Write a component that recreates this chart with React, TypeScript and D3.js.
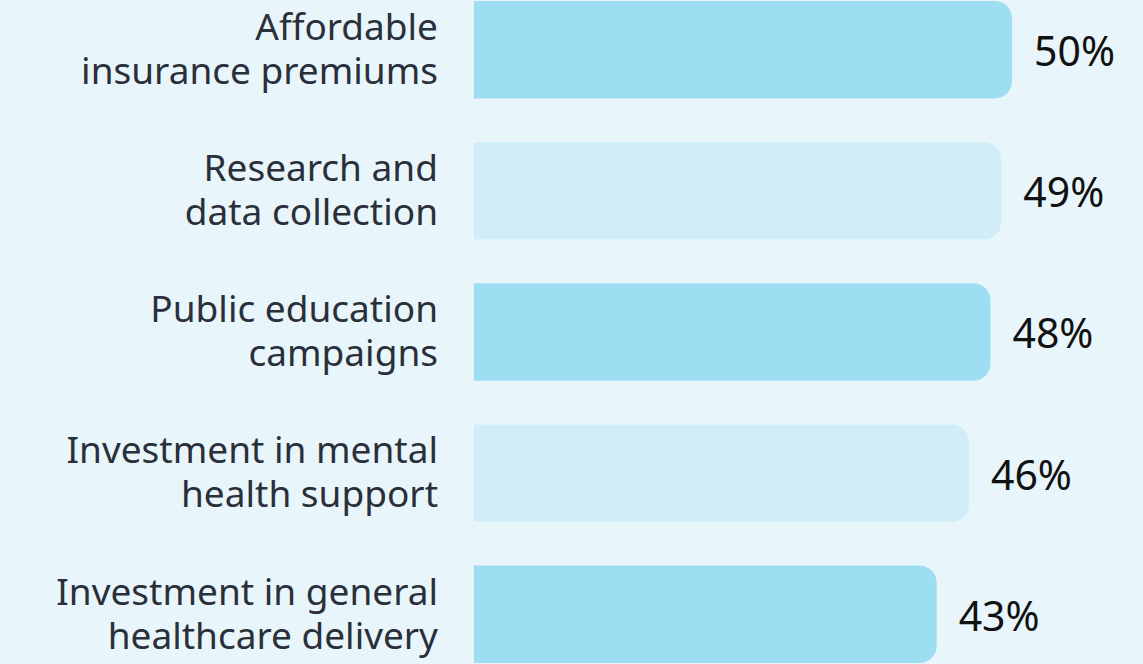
import React, { useRef, useEffect } from 'react';
import * as d3 from 'd3';

// chart data
const categories = [
  'Affordable insurance premiums',
  'Research and data collection',
  'Public education campaigns',
  'Investment in mental health support',
  'Investment in general healthcare delivery',
];
const labelLines = [
  ['Affordable', 'insurance premiums'],
  ['Research and', 'data collection'],
  ['Public education', 'campaigns'],
  ['Investment in mental', 'health support'],
  ['Investment in general', 'healthcare delivery'],
];
const values = [50, 49, 48, 46, 43];

const BarChart = () => {
  const ref = useRef(null);

  useEffect(() => {
    const width = 1143;
    const height = 664;
    const radius = 17;

    d3.select(ref.current).selectAll('*').remove();

    const svg = d3.select(ref.current)
      .attr('width', width)
      .attr('height', height);

    svg.append('rect')
      .attr('width', width)
      .attr('height', height)
      .attr('fill', '#e8f6fc');

    const y = d3.scaleBand()
      .domain(categories)
      .range([1, 663])
      .paddingInner(0.31)
      .paddingOuter(0);

    const x = d3.scaleLinear()
      .domain([0, 50])
      .range([474, 1012]);

    // bar with square left side, rounded right corners
    const barPath = (x0, y0, x1, h) => {
      const r = Math.min(radius, (x1 - x0) / 2, h / 2);
      const p = d3.path();
      p.moveTo(x0, y0);
      p.lineTo(x1 - r, y0);
      p.arcTo(x1, y0, x1, y0 + r, r);
      p.lineTo(x1, y0 + h - r);
      p.arcTo(x1, y0 + h, x1 - r, y0 + h, r);
      p.lineTo(x0, y0 + h);
      p.closePath();
      return p.toString();
    };

    const rows = svg.selectAll('g.row')
      .data(categories)
      .enter()
      .append('g')
      .attr('class', 'row');

    rows.append('path')
      .attr('d', (d, i) => barPath(x(0), y(d), x(values[i]), y.bandwidth()))
      .attr('fill', (d, i) => (i % 2 === 0 ? '#9edef2' : '#d1eef8'));

    // category labels, two lines, right aligned
    const lineH = 44;
    rows.append('text')
      .attr('text-anchor', 'end')
      .attr('font-family', '"Noto Sans", sans-serif')
      .attr('font-size', 37)
      .attr('fill', '#2a2f3a')
      .each(function (d, i) {
        const mid = y(d) + y.bandwidth() / 2;
        const lines = labelLines[i];
        d3.select(this)
          .selectAll('tspan')
          .data(lines)
          .enter()
          .append('tspan')
          .attr('x', 438)
          .attr('y', (l, j) => mid + (j - (lines.length - 1) / 2) * lineH)
          .attr('dy', '0.33em')
          .text((l) => l);
      });

    // value labels
    rows.append('text')
      .attr('x', (d, i) => x(values[i]) + 22)
      .attr('y', (d) => y(d) + y.bandwidth() / 2 + 2)
      .attr('dy', '0.35em')
      .attr('font-family', '"Noto Sans", sans-serif')
      .attr('font-size', 41)
      .attr('fill', '#111111')
      .text((d, i) => values[i] + '%');
  }, []);

  return <svg ref={ref} style={{ position: 'absolute', left: 0, top: 0, display: 'block' }} />;
};

const App = () => {
  return (
    <div>
      <BarChart />
    </div>
  );
};

export default App;
